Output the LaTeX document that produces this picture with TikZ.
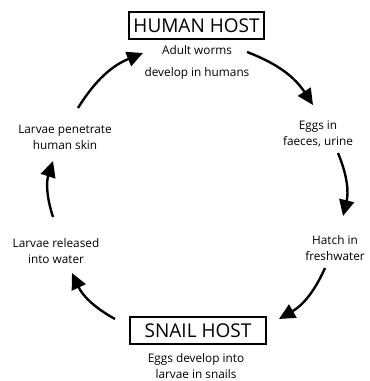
\documentclass[tikz,border=0pt]{standalone}
\usepackage{fontspec}
\setmainfont{Open Sans}
\usetikzlibrary{arrows.meta}
\begin{document}
\begin{tikzpicture}[x=1pt,y=-1pt,
  lbl/.style={font=\fontsize{11.8}{16}\selectfont, align=center, inner sep=0pt},
  host/.style={draw, line width=1.1pt, font=\fontsize{19}{20}\selectfont, minimum width=135pt, minimum height=27pt, inner sep=0pt},
  arr/.style={line width=2.4pt, -{Triangle[length=16pt,width=15pt]}, bend left=18}]
\useasboundingbox (0,0) rectangle (370,381);
\node[host] (human) at (196.5,25.5) {HUMAN HOST};
\node[host, minimum width=136pt] (snail) at (198,330.5) {SNAIL HOST};
\node[lbl] (adult1) at (197,50) {Adult worms};
\node[lbl] (adult2) at (197,73) {develop in humans};
\node[lbl] (eggs) at (318,133.5) {Eggs in\\faeces, urine};
\node[lbl] (hatch) at (335,248.5) {Hatch in\\freshwater};
\node[lbl] (snl) at (196,366) {Eggs develop into\\larvae in snails};
\node[lbl] (rel) at (56,251.5) {Larvae released\\into water};
\node[lbl] (pen) at (65,137) {Larvae penetrate\\human skin};
\coordinate (a1s) at (78,108); \coordinate (a1e) at (143,53);
\coordinate (a2s) at (247,52); \coordinate (a2e) at (313,105);
\coordinate (a3s) at (338,153); \coordinate (a3e) at (343,216);
\coordinate (a4s) at (325,268); \coordinate (a4e) at (279,319);
\coordinate (a5s) at (115,319); \coordinate (a5e) at (72,273);
\coordinate (a6s) at (53,217); \coordinate (a6e) at (53,161);
\draw[arr] (a1s) to (a1e);
\draw[arr] (a2s) to (a2e);
\draw[arr] (a3s) to (a3e);
\draw[arr] (a4s) to (a4e);
\draw[arr] (a5s) to (a5e);
\draw[arr] (a6s) to (a6e);
\end{tikzpicture}
\end{document}
